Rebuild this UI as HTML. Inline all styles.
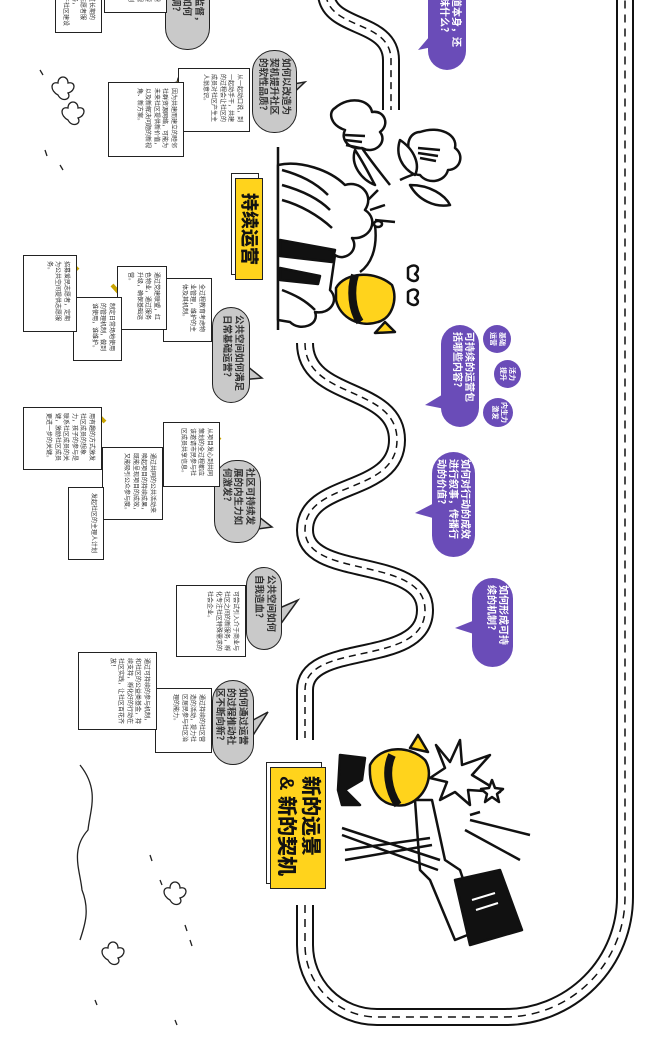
<!DOCTYPE html>
<html><head><meta charset="utf-8">
<style>
html,body{margin:0;padding:0;background:#fff;}
body{width:660px;height:1041px;position:relative;overflow:hidden;font-family:"Liberation Sans","Noto Sans CJK SC",sans-serif;}
.r{position:absolute;transform-origin:0 0;transform:rotate(90deg);box-sizing:border-box;overflow:hidden;}
.note{background:#fff;border:1.5px solid #222;font-size:6px;line-height:8.5px;color:#333;padding:6px 5px 3px 5px;}
.gb{background:#c9c9c9;border:1.5px solid #222;border-radius:22px;font-size:9.5px;line-height:11.5px;font-weight:bold;color:#333;padding:5px 7px;white-space:nowrap;}
.pb{background:#6a4cb8;border-radius:22px;font-size:10px;line-height:12px;font-weight:bold;color:#fff;padding:5px 7px;white-space:nowrap;}
.pc{background:#6a4cb8;border-radius:50%;font-size:7px;line-height:9px;color:#fff;font-weight:bold;text-align:center;padding-top:5px;}
.lab{background:#ffd31c;border:1.5px solid #222;font-weight:900;color:#111;box-shadow:-5px 4px 0 -1px #fff,-5px 4px 0 0 #222;overflow:visible;}
svg{position:absolute;left:0;top:0;}
</style></head><body>
<svg width="660" height="1041" viewBox="0 0 660 1041">
 <g fill="none" stroke-linecap="butt">
   <path d="M326 -5 C330 30 391 20 391 60 L391 110" stroke="#111" stroke-width="18"/>
   <path d="M326 -5 C330 30 391 20 391 60 L391 110" stroke="#fff" stroke-width="14"/>
   <path d="M326 -5 C330 30 391 20 391 60 L391 110" stroke="#111" stroke-width="1.5" stroke-dasharray="7 5"/>
   <path d="M305 343 C305 400 397 385 397 440 C397 495 305 480 305 530 C305 580 425 555 425 610 C425 668 305 640 305 690 L305 740" stroke="#111" stroke-width="18"/>
   <path d="M305 343 C305 400 397 385 397 440 C397 495 305 480 305 530 C305 580 425 555 425 610 C425 668 305 640 305 690 L305 740" stroke="#fff" stroke-width="14"/>
   <path d="M305 343 C305 400 397 385 397 440 C397 495 305 480 305 530 C305 580 425 555 425 610 C425 668 305 640 305 690 L305 740" stroke="#111" stroke-width="1.5" stroke-dasharray="7 5"/>
   <path d="M305 905 L305 945 A72 72 0 0 0 377 1017 L505 1017 A120 120 0 0 0 625 897 L625 -5" stroke="#111" stroke-width="18"/>
   <path d="M305 905 L305 945 A72 72 0 0 0 377 1017 L505 1017 A120 120 0 0 0 625 897 L625 -5" stroke="#fff" stroke-width="14"/>
   <path d="M305 905 L305 945 A72 72 0 0 0 377 1017 L505 1017 A120 120 0 0 0 625 897 L625 -5" stroke="#111" stroke-width="1.5" stroke-dasharray="8 6"/>
 </g>
 <!-- bouquet illustration -->
 <g stroke="#111" stroke-width="2.5" fill="#fff" stroke-linejoin="round">
  <path d="M390 185 C370 160 355 140 345 120" fill="none"/>
  <path d="M400 180 C420 170 440 170 445 150" fill="none"/>
  <path d="M335 108 C350 95 370 100 372 112 C385 110 390 125 380 132 C388 142 375 155 362 148 C350 150 340 140 345 130 C330 125 328 112 335 108Z"/>
  <path d="M420 132 C440 125 458 135 455 148 C465 155 460 170 448 170 C445 182 428 185 420 175 C408 175 405 160 412 155 C404 145 410 132 420 132Z"/>
  <path d="M345 135 L365 136 M345 140 L362 142 M346 145 L360 148" fill="none"/>
  <path d="M418 148 L440 150 M418 153 L438 156 M420 158 L436 161" fill="none"/>
  <path d="M355 150 C365 165 372 180 375 185 C362 180 350 165 355 150Z"/>
  <path d="M400 140 C415 150 420 165 415 175 C402 168 395 155 400 140Z"/>
  <path d="M330 180 C340 190 348 200 350 210 C338 205 330 192 330 180Z"/>
  <path d="M410 185 C430 185 445 195 450 205 C435 208 418 200 410 185Z"/>
  <path d="M278 147 L278 330" fill="none"/>
  <path d="M278 165 C300 160 330 170 345 185 C360 180 375 195 365 210 C380 220 370 240 352 238 C360 250 345 262 335 255 L330 290 C340 300 330 315 315 312 C320 325 300 332 290 322 L278 320 Z"/>
  <path d="M282 170 C300 175 315 182 328 195 M282 185 C300 190 318 198 330 210 M282 200 C300 205 318 215 332 228 M282 290 C295 295 305 300 315 310" fill="none"/>
  <path d="M280 240 L335 250 L332 262 L280 256Z M280 268 L320 276 L318 284 L280 280Z" fill="#111"/>
  <path d="M370 210 L385 205 M375 220 L395 222 M368 200 L378 190" fill="none"/>
  <path d="M375 225 C378 250 370 265 360 272" fill="none"/>
  <ellipse cx="378" cy="224" rx="4" ry="3"/>
  <path d="M336 288 C345 272 375 270 392 285 C398 300 392 318 378 322 C360 328 340 318 336 300Z" fill="#ffd31c"/>
  <path d="M355 275 C350 290 352 310 360 322" stroke-width="8" fill="none"/>
  <path d="M385 322 L375 333 L395 332Z" fill="#ffd31c"/>
  <path d="M408 268 C415 262 422 268 415 274 C422 278 415 285 408 278Z" fill="#fff"/>
  <path d="M408 292 C415 286 422 292 415 298 C422 302 415 309 408 302Z" fill="#fff"/>
 </g>
 <!-- bottle illustration -->
 <g stroke="#111" stroke-width="2.5" fill="#fff" stroke-linejoin="round">
  <path d="M436 745 L450 762 L460 740 L462 765 L490 755 L472 775 L500 792 L468 790 L470 805 L455 792 L440 800 L447 782 L430 778 L445 768Z"/>
  <path d="M492 780 L495 788 L503 789 L497 794 L499 802 L492 797 L485 802 L487 794 L481 789 L489 788Z"/>
  <path d="M470 820 L530 835 M465 830 L520 860 M470 815 L480 812" fill="none"/>
  <path d="M415 800 L432 800 L445 860 L460 870 L480 930 L455 940 L430 880 L420 870Z"/>
  <path d="M455 880 L500 870 L522 930 L470 945 Z" fill="#111"/>
  <path d="M472 900 L495 893 M476 910 L498 903" stroke="#fff" stroke-width="2" fill="none"/>
  <path d="M340 755 L365 758 L362 780 L345 790 L360 805 L342 805 L338 790Z" fill="#111"/>
  <path d="M370 765 C380 745 410 745 425 760 C435 775 425 800 405 805 C385 808 368 795 370 765Z" fill="#ffd31c"/>
  <path d="M392 755 C385 770 388 790 398 805" stroke-width="8" fill="none"/>
  <path d="M410 748 L418 735 L428 752Z" fill="#ffd31c"/>
  <path d="M342 828 L440 860 M342 835 L438 870 M345 850 L430 838 M345 860 L432 845" fill="none"/>
 </g>
 <!-- hills & clovers -->
 <g stroke="#222" stroke-width="1.3" fill="none">
  <path d="M80 765 C100 790 90 810 88 830 C70 850 80 870 82 890 C90 910 85 925 80 940"/>
  <path d="M58 95 c-8 -4 -8 -14 0 -12 c0 -8 10 -8 10 0 c8 -2 8 8 0 10 c4 6 -6 10 -10 2Z"/>
  <path d="M68 120 c-8 -4 -8 -14 0 -12 c0 -8 10 -8 10 0 c8 -2 8 8 0 10 c4 6 -6 10 -10 2Z"/>
  <path d="M170 900 c-8 -4 -8 -14 0 -12 c0 -8 10 -8 10 0 c8 -2 8 8 0 10 c4 6 -6 10 -10 2Z"/>
  <path d="M108 960 c-8 -4 -8 -14 0 -12 c0 -8 10 -8 10 0 c8 -2 8 8 0 10 c4 6 -6 10 -10 2Z"/>
  <path d="M40 70 l3 5 M45 150 l2 6 M60 165 l3 5 M150 855 l2 6 M160 880 l2 5 M185 925 l2 6 M190 940 l2 6 M95 1000 l2 5 M175 1020 l2 5"/>
 </g>
 <!-- tails -->
 <g stroke="#222" stroke-width="1.5" fill="#c9c9c9">
  <path d="M270 88 L305 82 L284 102Z"/>
  <path d="M242 362 L262 378 L240 380Z"/>
  <path d="M250 510 L272 527 L250 530Z"/>
  <path d="M275 610 L298 600 L280 625Z"/>
  <path d="M244 725 L268 712 L250 740Z"/>
 </g>
 <g fill="#6a4cb8">
  <path d="M435 30 L418 50 L442 45Z"/>
  <path d="M450 390 L425 405 L450 410Z"/>
  <path d="M440 500 L415 513 L440 520Z"/>
  <path d="M475 620 L455 628 L477 635Z"/>
 </g>
 <!-- tapes -->
 <g stroke="#c9a400" stroke-width="4">
  <path d="M238 70 L248 80 M198 285 L210 295 M160 275 L170 285 M112 285 L122 296 M68 260 L78 270 M208 428 L220 440 M158 455 L170 465 M95 412 L105 422 M96 490 L106 500 M238 590 L248 600 M205 693 L213 705 M140 657 L150 667"/>
 </g>
 <path d="M178 78 l3 -4 l1 5 l5 -1 l-3 4 l4 3 l-5 1 l0 5 l-3 -4 l-4 3 l1 -5 l-5 -2 l5 -1Z" fill="#ffd31c" stroke="#222" stroke-width="1"/>
</svg>

<div class="r lab" style="left:263px;top:178px;width:102px;height:28px;font-size:18px;line-height:26px;text-align:center;">持续运营</div>
<div class="r lab" style="left:326px;top:767px;width:122px;height:56px;font-size:20px;line-height:24px;padding:3px 8px;">新的远景<br>&amp; 新的契机</div>

<div class="r pb" style="left:466px;top:-20px;width:90px;height:38px;">这道本身，还<br>意味什么？</div>
<div class="r pb" style="left:479px;top:325px;width:102px;height:38px;">可持续的运营包<br>括哪些内容？</div>
<div class="r pc" style="left:511px;top:325px;width:28px;height:28px;">基础<br>运营</div>
<div class="r pc" style="left:521px;top:360px;width:28px;height:27px;">活力<br>提升</div>
<div class="r pc" style="left:513px;top:398px;width:29px;height:30px;">内生力<br>激发</div>
<div class="r pb" style="left:475px;top:452px;width:105px;height:43px;">如何对行动的成效<br>进行叙事，传播行<br>动的价值？</div>
<div class="r pb" style="left:513px;top:578px;width:89px;height:41px;">如何形成可持<br>续的机制？</div>

<div class="r gb" style="left:210px;top:-30px;width:80px;height:45px;">如何监督，<br>问题如何<br>与协调？</div>
<div class="r gb" style="left:297px;top:50px;width:83px;height:45px;">如何以改造为<br>契机提升社区<br>的软性品质？</div>
<div class="r gb" style="left:250px;top:307px;width:96px;height:38px;">公共空间如何满足<br>日常基础运营？</div>
<div class="r gb" style="left:261px;top:460px;width:83px;height:47px;">社区可持续发<br>展的内生力如<br>何激发？</div>
<div class="r gb" style="left:282px;top:567px;width:83px;height:36px;">公共空间如何<br>自我造血？</div>
<div class="r gb" style="left:254px;top:680px;width:85px;height:42px;">如何通过运营<br>的过程推动社<br>区不断向新？</div>

<div class="r note" style="left:102px;top:-10px;width:43px;height:47px;">过长期的<br>志愿者服务，<br>于社区建设</div>
<div class="r note" style="left:167px;top:-10px;width:23px;height:63px;">需要<br>规则</div>
<div class="r note" style="left:250px;top:68px;width:64px;height:72px;">从一起动口说，到一起动手干，共建的过程会让社区的成员对社区产生主人翁意识。</div>
<div class="r note" style="left:184px;top:82px;width:75px;height:76px;">因为共建而建立的睦邻社群资源网络，可能为未来社区提供新价值，以及新解决问题的新视角、新方案。</div>
<div class="r note" style="left:212px;top:278px;width:64px;height:49px;">全过程教育考虑物业管理，维护的主体及其机制。</div>
<div class="r note" style="left:167px;top:266px;width:64px;height:50px;">通过党建联盟，红色物业，通过服务升级，确保基础运营。</div>
<div class="r note" style="left:122px;top:297px;width:64px;height:49px;">制定日常场地使用的管理机制，做到谁使用，谁维护。</div>
<div class="r note" style="left:77px;top:255px;width:77px;height:54px;">招募爱民志愿者，定期为公共空间提供志愿服务。</div>
<div class="r note" style="left:220px;top:422px;width:65px;height:57px;">从项目发心到共同策划的全过程都应该邀请市民参与社区成员共享信息。</div>
<div class="r note" style="left:163px;top:447px;width:73px;height:61px;">通过共同的公共活动来唤起项目的持续成果，既能呈现项目的成效，又能吸引公众参与度。</div>
<div class="r note" style="left:102px;top:407px;width:63px;height:79px;">用有趣的方式激发社区成员的想象力，孩子的参与是联系社区成员的关键，激励社区成员更进一步的关键。</div>
<div class="r note" style="left:104px;top:487px;width:73px;height:36px;">发起社区的主理人计划</div>
<div class="r note" style="left:246px;top:585px;width:72px;height:70px;">可尝试引入介于商业与社区之间的新服务，孵化专注社区特殊需求的社会企业。</div>
<div class="r note" style="left:212px;top:688px;width:65px;height:57px;">通过持续的社区营造的活动，提力社区居民参与社区治理的能力。</div>
<div class="r note" style="left:157px;top:652px;width:78px;height:79px;">通过可持续的参与机制，和社区的公益类基金，持续支持，孵化好的行动在社区实践，让社区百花齐放！</div>
</body></html>
